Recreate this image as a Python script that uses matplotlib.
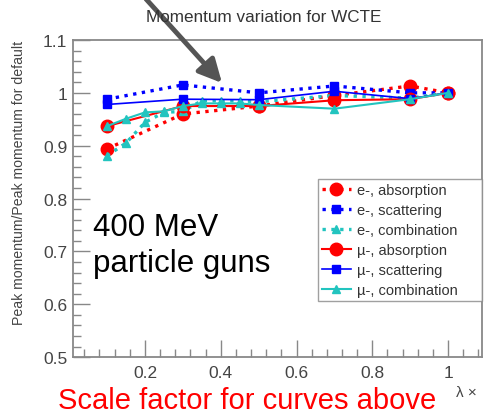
import numpy as np
import matplotlib
matplotlib.use("Agg")
from matplotlib import pyplot as plt
from matplotlib.ticker import MultipleLocator

plt.rcParams['font.family'] = ['Liberation Sans', 'DejaVu Sans']

# data
lam = [0.1, 0.3, 0.5, 0.7, 0.9, 1.0]
e_abs = [0.894, 0.960, 0.975, 0.995, 1.013, 1.0]
e_scat = [0.988, 1.015, 1.000, 1.013, 1.000, 1.0]
mu_abs = [0.937, 0.975, 0.975, 0.986, 0.988, 1.0]
mu_scat = [0.978, 0.988, 0.987, 1.003, 0.989, 1.0]

lam_comb = [0.1, 0.15, 0.2, 0.25, 0.3, 0.35, 0.4, 0.45, 0.5, 0.7, 0.9, 1.0]
e_comb = [0.881, 0.905, 0.944, 0.963, 0.965, 0.985, 0.985, 0.985, 0.983, 0.995, 0.990, 1.0]
mu_comb = [0.937, 0.951, 0.963, 0.965, 0.975, 0.980, 0.980, 0.980, 0.977, 0.970, 0.988, 1.0]

red = "#ff0000"
blue = "#0000ff"
cyan = "#22c4bf"
gray = "#444444"

fig = plt.figure(figsize=(4.93, 4.14), dpi=100)
ax = fig.add_axes([0.148, 0.135, 0.83, 0.766])

ax.plot(lam, e_abs, color=red, linestyle=":", linewidth=2.4, marker="o", markersize=9, label="e-, absorption")
ax.plot(lam, e_scat, color=blue, linestyle=":", linewidth=2.4, marker="s", markersize=6, label="e-, scattering")
ax.plot(lam_comb, e_comb, color=cyan, linestyle=":", linewidth=2.4, marker="^", markersize=6, label="e-, combination")
ax.plot(lam, mu_abs, color=red, linestyle="-", linewidth=1.5, marker="o", markersize=9, label="\u00b5-, absorption")
ax.plot(lam, mu_scat, color=blue, linestyle="-", linewidth=1.2, marker="s", markersize=6, label="\u00b5-, scattering")
ax.plot(lam_comb, mu_comb, color=cyan, linestyle="-", linewidth=1.5, marker="^", markersize=6, label="\u00b5-, combination")

ax.set_xlim(0.01, 1.09)
ax.set_ylim(0.5, 1.1)
ax.xaxis.set_major_locator(MultipleLocator(0.2))
ax.xaxis.set_minor_locator(MultipleLocator(0.04))
ax.yaxis.set_major_locator(MultipleLocator(0.1))
ax.yaxis.set_minor_locator(MultipleLocator(0.02))
ax.set_xticks([0.2, 0.4, 0.6, 0.8, 1.0])
ax.set_xticklabels(["0.2", "0.4", "0.6", "0.8", "1"])
ax.set_yticks([0.5, 0.6, 0.7, 0.8, 0.9, 1.0, 1.1])
ax.set_yticklabels(["0.5", "0.6", "0.7", "0.8", "0.9", "1", "1.1"])
ax.tick_params(which="major", direction="in", length=12, width=1, color="#888888",
               labelsize=12.5, labelcolor=gray, pad=4)
ax.tick_params(which="minor", direction="in", length=6, width=1, color="#888888")
ax.tick_params(axis="x", which="major", pad=6)
for s in ax.spines.values():
    s.set_color("#888888")
    s.set_linewidth(1.3)

ax.set_ylabel("Peak momentum/Peak momentum for default", fontsize=10.2, color=gray, loc="top", labelpad=12)
ax.set_title("Momentum variation for WCTE", fontsize=12.3, color="#333333", x=0.465, pad=14)

leg_top = 0.5615
leg_h = 0.372
leg = ax.legend(loc="upper left", bbox_to_anchor=(0.599, leg_top - leg_h, 0.401, leg_h), mode="expand",
                fontsize=10.5, frameon=True, fancybox=False, edgecolor="#888888", handlelength=2.0,
                borderpad=0.25, labelspacing=0.42, handletextpad=0.4, borderaxespad=0)
for t in leg.get_texts():
    t.set_color("#333333")
leg.get_frame().set_linewidth(1.0)

fig.text(0.188, 1 - 272 / 414, "400 MeV\nparticle guns", fontsize=22.5, color="black",
         ha="left", va="baseline", linespacing=1.25)
fig.text(0.118, 1 - 409 / 414, "Scale factor for curves above", fontsize=21, color=red,
         ha="left", va="baseline")
fig.text(0.925, 0.035, "\u03bb \u00d7", fontsize=11, color=gray, ha="left", va="bottom")

ax.annotate("", xy=(222 / 493, 1 - 84 / 414), xytext=(146 / 493, 1.0),
            xycoords="figure fraction", textcoords="figure fraction",
            arrowprops=dict(arrowstyle="-|>,head_length=1.4,head_width=0.7", color="#555555",
                            linewidth=3.5, shrinkA=0, shrinkB=0))

fig.savefig("out.png", dpi=100)
